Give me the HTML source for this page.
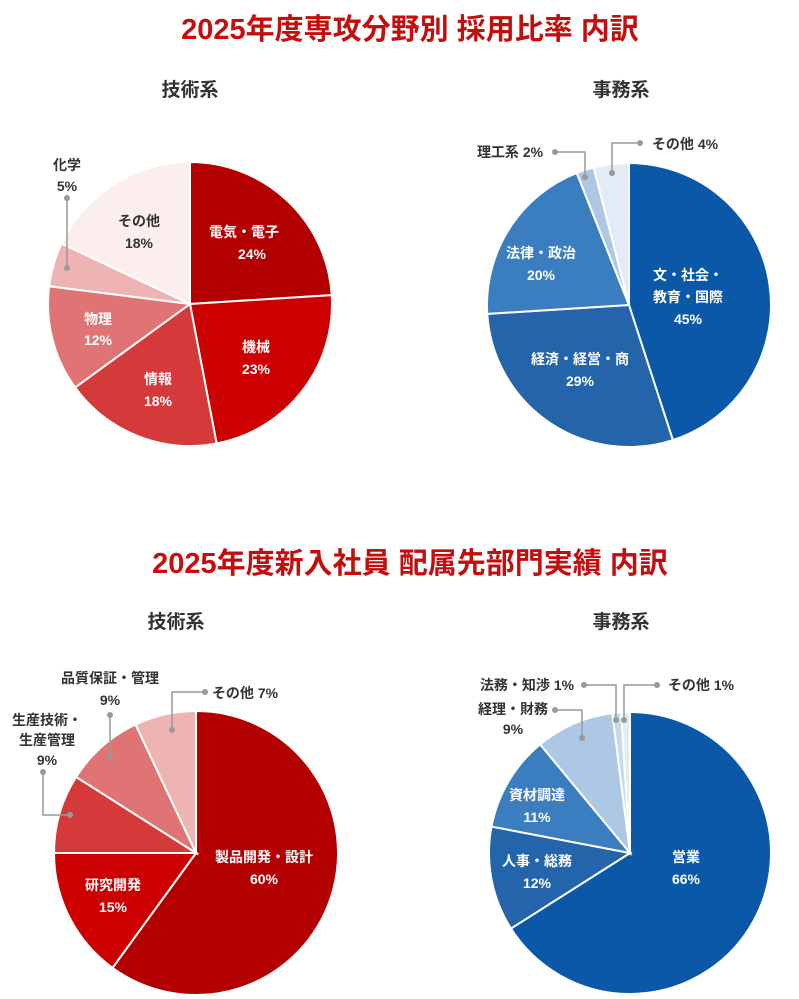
<!DOCTYPE html>
<html><head><meta charset="utf-8"><style>
html,body{margin:0;padding:0;background:#fff;}
svg{display:block;font-family:"Liberation Sans","Noto Sans CJK JP",sans-serif;}
</style></head><body>
<svg id="s" width="799" height="999" viewBox="0 0 799 999" xmlns="http://www.w3.org/2000/svg">
<text x="410" y="39" text-anchor="middle" font-size="29" font-weight="bold" fill="#c40d0d">2025年度専攻分野別 採用比率 内訳</text>
<text x="410" y="573" text-anchor="middle" font-size="29" font-weight="bold" fill="#c40d0d">2025年度新入社員 配属先部門実績 内訳</text>
<g font-size="19" font-weight="bold" fill="#333" text-anchor="middle">
<text x="190" y="96">技術系</text><text x="621" y="96">事務系</text>
<text x="176" y="628">技術系</text><text x="621" y="628">事務系</text>
</g>
<g id="pies"></g>
<g stroke="#999" stroke-width="1.5" fill="none">
<polyline points="67,198 67,268"/>
<polyline points="555,152 585,152 585,177"/>
<polyline points="640,143 612,143 612,173"/>
<polyline points="205,692 172,692 172,730"/>
<polyline points="110,715 110,757"/>
<polyline points="43,772 43,815 70,815"/>
<polyline points="584,685 616,685 616,720"/>
<polyline points="657,685 624,685 624,720"/>
<polyline points="555,710 582,710 582,738"/>
</g>
<g fill="#999">
<circle cx="67" cy="198" r="3"/><circle cx="67" cy="268" r="3"/>
<circle cx="555" cy="152" r="3"/><circle cx="585" cy="177" r="3"/>
<circle cx="640" cy="143" r="3"/><circle cx="612" cy="173" r="3"/>
<circle cx="205" cy="692" r="3"/><circle cx="172" cy="730" r="3"/>
<circle cx="110" cy="715" r="3"/><circle cx="110" cy="757" r="3"/>
<circle cx="43" cy="772" r="3"/><circle cx="70" cy="815" r="3"/>
<circle cx="584" cy="685" r="3"/><circle cx="616" cy="720" r="3"/>
<circle cx="657" cy="685" r="3"/><circle cx="624" cy="720" r="3"/>
<circle cx="555" cy="710" r="3"/><circle cx="582" cy="738" r="3"/>
</g>
<g font-size="14" font-weight="bold" text-anchor="middle">
<g fill="#fff">
<text x="244" y="237">電気・電子</text><text x="252" y="259">24%</text>
<text x="256" y="352">機械</text><text x="256" y="374">23%</text>
<text x="158" y="384">情報</text><text x="158" y="406">18%</text>
<text x="98" y="324">物理</text><text x="98" y="345">12%</text>
<text x="688" y="280">文・社会・</text><text x="688" y="302">教育・国際</text><text x="688" y="324">45%</text>
<text x="580" y="364">経済・経営・商</text><text x="580" y="386">29%</text>
<text x="541" y="258">法律・政治</text><text x="541" y="280">20%</text>
<text x="264" y="862">製品開発・設計</text><text x="264" y="884">60%</text>
<text x="113" y="890">研究開発</text><text x="113" y="912">15%</text>
<text x="686" y="862">営業</text><text x="686" y="884">66%</text>
<text x="537" y="866">人事・総務</text><text x="537" y="888">12%</text>
<text x="537" y="800">資材調達</text><text x="537" y="822">11%</text>
</g>
<g fill="#333">
<text x="139" y="226">その他</text><text x="139" y="248">18%</text>
<text x="67" y="170">化学</text><text x="67" y="191">5%</text>
<text x="510" y="157" text-anchor="middle">理工系 2%</text>
<text x="685" y="149">その他 4%</text>
<text x="110" y="683">品質保証・管理</text><text x="110" y="705">9%</text>
<text x="47" y="725">生産技術・</text><text x="47" y="745">生産管理</text><text x="47" y="765">9%</text>
<text x="245" y="698">その他 7%</text>
<text x="527" y="690">法務・知渉 1%</text>
<text x="701" y="690">その他 1%</text>
<text x="513" y="714">経理・財務</text><text x="513" y="734">9%</text>
</g>
</g>
</svg>
<script>
function pie(cx,cy,r,data){
 var g=document.getElementById('pies');var a=0;
 data.forEach(function(d){
  var a2=a+d[0]/100*2*Math.PI;
  var x1=cx+r*Math.sin(a),y1=cy-r*Math.cos(a),x2=cx+r*Math.sin(a2),y2=cy-r*Math.cos(a2);
  var large=(a2-a)>Math.PI?1:0;
  var p=document.createElementNS('http://www.w3.org/2000/svg','path');
  p.setAttribute('d','M'+cx+','+cy+' L'+x1+','+y1+' A'+r+','+r+' 0 '+large+' 1 '+x2+','+y2+' Z');
  p.setAttribute('fill',d[1]);p.setAttribute('stroke','#fff');p.setAttribute('stroke-width','2');
  g.appendChild(p);a=a2;
 });
}
pie(190,304,142,[[24,'#b30000'],[23,'#cc0000'],[18,'#d43a3a'],[12,'#e07474'],[5,'#eeb4b4'],[18,'#fdeeee']]);
pie(629,305,142,[[45,'#0b58a8'],[29,'#2364ab'],[20,'#3a7ec0'],[2,'#adc8e5'],[4,'#e2ebf6']]);
pie(196,853,142,[[60,'#b30000'],[15,'#cc0000'],[9,'#d43a3a'],[9,'#e07474'],[7,'#eeb4b4']]);
pie(630,853,141,[[66,'#0b58a8'],[12,'#2364ab'],[11,'#3a7ec0'],[9,'#adc8e5'],[1,'#c8d9ee'],[1,'#e2ebf6']]);
</script>
</body></html>
